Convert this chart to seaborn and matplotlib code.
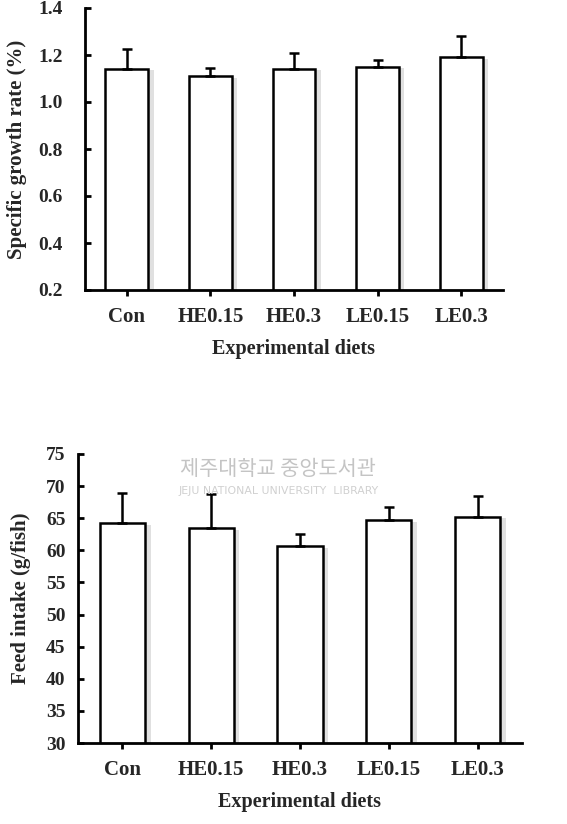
import numpy as np
import pandas as pd
import matplotlib
matplotlib.use('Agg')
import matplotlib.pyplot as plt
import matplotlib.patheffects as pe
import seaborn as sns

sns.set_style("white")
plt.rcParams['font.family'] = ['Liberation Serif', 'DejaVu Serif']
plt.rcParams['font.weight'] = 'bold'

# data
diets = ['Con', 'HE0.15', 'HE0.3', 'LE0.15', 'LE0.3']
sgr = [1.14, 1.11, 1.14, 1.15, 1.19]
sgr_err = [0.085, 0.035, 0.07, 0.03, 0.09]
feed = [64.2, 63.4, 60.6, 64.7, 65.2]
feed_err = [4.65, 5.3, 2.0, 2.1, 3.2]

df_sgr = pd.DataFrame({'diet': diets, 'value': sgr, 'err': sgr_err})
df_feed = pd.DataFrame({'diet': diets, 'value': feed, 'err': feed_err})

W, H = 567, 824
fig = plt.figure(figsize=(W / 100, H / 100), dpi=100)

def box(l, r, t, b):
    return [l / W, 1 - b / H, (r - l) / W, (b - t) / H]

ax1 = fig.add_axes(box(85, 503, 8, 290))
ax2 = fig.add_axes(box(78, 522, 454, 743))

shadow = [pe.SimplePatchShadow(offset=(4, -1), shadow_rgbFace='#d4d4d4', alpha=0.7), pe.Normal()]

def draw(ax, df, ylim, yticks, fmt, ylabel, ypad, ylabelpad):
    sns.barplot(data=df, x='diet', y='value', ax=ax, color='white', width=0.51,
                edgecolor='black', linewidth=1.8, errorbar=None)
    for p in ax.patches:
        p.set_path_effects(shadow)
    ax.errorbar(np.arange(len(df)), df['value'], yerr=[np.zeros(len(df)), df['err']],
                fmt='none', ecolor='black', elinewidth=1.8, capsize=3.5, capthick=1.8, zorder=4)
    ax.set_xlim(-0.5, 4.5)
    ax.set_ylim(*ylim)
    ax.set_yticks(yticks)
    ax.set_yticklabels([fmt.format(v) for v in yticks])
    sns.despine(ax=ax)
    for s in ['left', 'bottom']:
        ax.spines[s].set_linewidth(2)
        ax.spines[s].set_color('black')
    ax.tick_params(axis='x', bottom=True, direction='inout', length=8, width=2,
                   color='black', pad=8, labelsize=15)
    ax.tick_params(axis='y', left=True, direction='in', length=4, width=2,
                   color='black', pad=ypad, labelsize=14)
    for t in ax.get_xticklabels() + ax.get_yticklabels():
        t.set_fontweight('bold')
    ax.set_xlabel('Experimental diets', fontsize=14.5, fontweight='bold', labelpad=9)
    ax.set_ylabel(ylabel, fontsize=15, fontweight='bold', labelpad=ylabelpad)

draw(ax1, df_sgr, (0.2, 1.4), [0.2, 0.4, 0.6, 0.8, 1.0, 1.2, 1.4], '{:.1f}',
     'Specific growth rate (%)', 16, 8)
draw(ax2, df_feed, (30, 75), list(range(30, 80, 5)), '{:d}', 'Feed intake (g/fish)', 9, 11)

# library watermark
fig.text(278 / W, 1 - 469 / H, '제주대학교 중앙도서관', family=['Noto Sans CJK KR', 'DejaVu Sans'],
         fontsize=15, color='#c4c4c4', ha='center', va='center', fontweight='normal', zorder=0)
fig.text(279 / W, 1 - 491 / H, 'JEJU NATIONAL UNIVERSITY  LIBRARY', family=['DejaVu Sans'],
         fontsize=7.8, color='#d0d0d0', ha='center', va='center', fontweight='normal', zorder=0)

fig.savefig('out.png', dpi=100)
